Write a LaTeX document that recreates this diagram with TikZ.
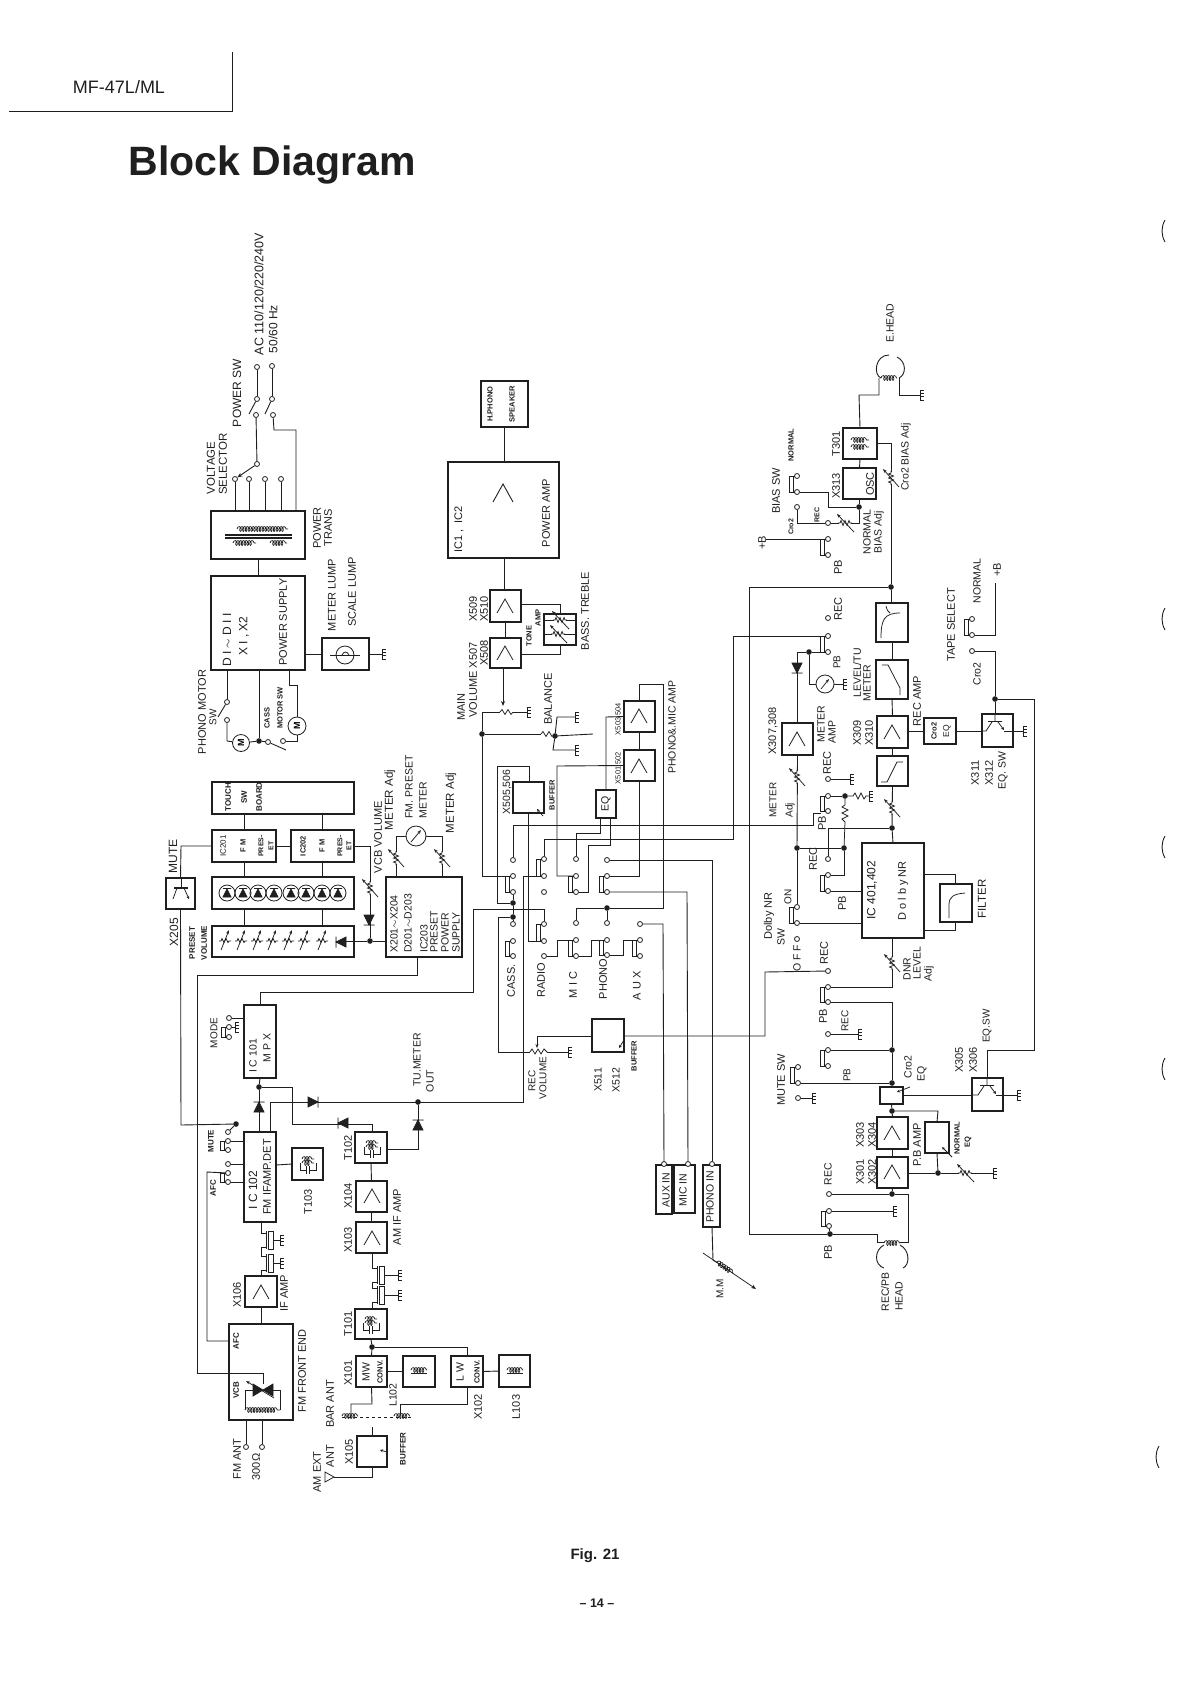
\documentclass[tikz,border=0pt]{standalone}
\usepackage{fontspec}
\setmainfont{Liberation Sans}
\usetikzlibrary{arrows.meta,decorations.pathmorphing,calc}
\definecolor{ink}{HTML}{1f1f1f}
\newcounter{lbl}
\tikzset{
 wire/.style={draw=ink,line width=.9pt},
 sym/.style={draw=ink,line width=.75pt},
 box/.style={draw=ink,line width=1.3pt,inner sep=0pt,outer sep=0pt,rectangle},
 term/.style={circle,draw=ink,fill=white,inner sep=0pt,minimum size=5pt,line width=.8pt},
 jdot/.style={circle,fill=ink,inner sep=0pt,minimum size=5.6pt},
 lab/.style={rotate=90,inner sep=0pt,text=ink,align=center},
 coilsym/.style={sym,decorate,decoration={coil,aspect=.6,segment length=2.8pt,amplitude=2.4pt}},
 zigsym/.style={sym,decorate,decoration={zigzag,segment length=3.6pt,amplitude=2pt}}
}
\newcommand\bx[6][]{\node[box,minimum width={(#5-#3)*1pt},minimum height={(#6-#4)*1pt},#1] (#2) at ({(#3+#5)/2},{(#4+#6)/2}) {};}
\newcommand\tm[3]{\node[term] (#1) at (#2,#3) {};}
\newcommand\dt[3]{\node[jdot] (#1) at (#2,#3) {};}
\newcommand\Lb[4][12]{\stepcounter{lbl}\node[lab,font=\fontsize{#1}{#1}\selectfont] (lb\thelbl) at (#2,#3) {#4};}
\newcommand\Ls[4][7.5]{\stepcounter{lbl}\node[lab,font=\fontsize{#1}{#1}\selectfont\bfseries] (lb\thelbl) at (#2,#3) {#4};}
\newcommand\gnd[2]{\draw[sym,line width=.9pt,shift={(#1,#2)}] (0,-5)--(0,5) (0,-5)--(4,-5) (0,-1.7)--(4,-1.7) (0,1.7)--(4,1.7) (0,5)--(4,5);}
\newcommand\vpot[2]{\fill[white,shift={(#1,#2)}] (-3,-6) rectangle (3,6);
 \draw[sym,shift={(#1,#2)}] (0,-7)--(0,-5)--(-2.5,-4)--(2.5,-2)--(-2.5,0)--(2.5,2)--(-2.5,4)--(0,5)--(0,7);
 \draw[sym,-{Stealth[length=4pt,width=3pt]},shift={(#1,#2)}] (8,9)--(-8,-9);}
\newcommand\hpot[2]{\fill[white,shift={(#1,#2)}] (-6,-3) rectangle (6,3);
 \draw[sym,shift={(#1,#2)}] (-7,0)--(-5,0)--(-4,-2.5)--(-2,2.5)--(0,-2.5)--(2,2.5)--(4,-2.5)--(5,0)--(7,0);
 \draw[sym,-{Stealth[length=4pt,width=3pt]},shift={(#1,#2)}] (9,9)--(-8,-9);}
\newcommand\ppot[2]{\draw[sym,shift={(#1,#2)}] (-6,1)--(-4,1)--(-3,-1.5)--(-1,2.5)--(1,-1.5)--(3,2.5)--(4,1)--(6,1);
 \draw[sym,-{Stealth[length=4pt,width=3pt]},shift={(#1,#2)}] (-4,10)--(4,-10);}
\newcommand\dio[3]{\draw[sym,fill=ink,shift={(#1,#2)},rotate=#3] (-5,-5)--(5,0)--(-5,5)--cycle (5,-5.5)--(5,5.5);}
\newcommand\amp[2]{\draw[sym,line width=.8pt,shift={(#1,#2)}] (-8,7)--(0,-7)--(8,7);}
\newcommand\sli[3]{\draw[sym,line width=.9pt] (#1-8,#2) rectangle (#1-4,#3);\draw[sym] (#1-4,#2)--(#1-2,#2) (#1-4,#3)--(#1-2,#3);}
\newcommand\trs[2]{\draw[sym,shift={(#1,#2)}] (-14,0)--(-9,0)--(-3,-9) (-7,-9.6)--(7,-9.6) (0,-17)--(0,-9.6);
 \draw[sym,-{Stealth[length=3pt,width=3pt]},shift={(#1,#2)}] (3,-9)--(9,-1);
 \draw[sym,shift={(#1,#2)}] (9,0)--(17,0);\draw[line width=1.6pt,ink,shift={(#1,#2)}] (-7,-9.6)--(7,-9.6);}
\newcommand\xt[4]{\draw[sym] (#1,#2-7)--(#1+6,#2-7) (#1,#2+7)--(#1+6,#2+7) (#1+5,#2-9)--(#1+5,#2+9);
 \draw[sym,line width=.9pt] (#1+7,#2-9) rectangle (#1+12,#2+9);\draw[sym] (#1+12,#2)--(#3,#2);\gnd{#3}{#2}}
\newcommand\ift[2]{\draw[coilsym,shift={(#1,#2)}] (-6,-5)--(6,-5);\draw[coilsym,shift={(#1,#2)}] (-6,-1)--(6,-1);
 \draw[sym,shift={(#1,#2)}] (-8,-1)--(-8,6)--(-1.5,6) (-1.5,2)--(-1.5,10) (1.5,2)--(1.5,10) (1.5,6)--(8,6)--(8,-1);}
\begin{document}
\begin{tikzpicture}[x=1pt,y=-1pt]
\useasboundingbox (0,0) rectangle (1191,1683);
\fill[white] (0,0) rectangle (1191,1683);
% ---------- header
\coordinate (hA) at (232,52);\coordinate (hB) at (232,112);\coordinate (hC) at (9,112);
\draw[ink,line width=1pt] (hA)--(hB)--(hC);
\node[inner sep=0pt,text=ink,font=\fontsize{18}{19}\selectfont] (hdr) at (119,87) {MF-47L/ML};
\node[inner sep=0pt,text=ink,font=\fontsize{41}{42}\selectfont\bfseries] (title) at (272,165) {Block Diagram};
\node[inner sep=0pt,text=ink,font=\fontsize{15}{16}\selectfont\bfseries] (fig) at (595,1556) {Fig. 21};
\node[inner sep=0pt,text=ink,font=\fontsize{12.5}{13}\selectfont\bfseries] (pg) at (597,1603) {-- 14 --};
\foreach \px/\py in {1163/231,1163/619,1163/847,1163/1069,1157/1457}
 \draw[ink,line width=.9pt] (\px+2,\py-11) .. controls (\px-2,\py-4) and (\px-2,\py+4) .. (\px+2,\py+11);
% ---------- boxes
\bx{trans}{211}{511}{305}{559}
\bx{psu}{211}{576}{305}{670}
\bx{lamp}{322}{638}{369}{670}
\bx{touch}{212}{782}{354}{814}
\bx{ic201}{212}{830}{276}{862}
\bx{ic202}{291}{830}{354}{862}
\bx{leds}{212}{877}{354}{909}
\bx{preset}{212}{926}{354}{957}
\bx{pps}{386}{877}{462}{957}
\bx{x205}{166}{878}{195}{909}
\bx{ic101}{244}{1005}{276}{1078}
\bx{ic102}{244}{1132}{276}{1222}
\bx{t103}{292}{1148}{323}{1180}
\bx{x106}{245}{1276}{277}{1307}
\bx{fe}{229}{1324}{293}{1420}
\bx{t102}{355}{1132}{387}{1163}
\bx{x104}{356}{1181}{387}{1212}
\bx{x103}{356}{1222}{387}{1253}
\bx{t101}{355}{1309}{387}{1339}
\bx{x101}{356}{1356}{387}{1387}
\bx{lii}{403}{1356}{435}{1387}
\bx{x102}{451}{1356}{483}{1387}
\bx{liii}{499}{1355}{530}{1387}
\bx{x105}{357}{1436}{387}{1467}
\bx{phones}{481}{381}{528}{427}
\bx{pamp}{448}{462}{559}{558}
\bx{x509}{490}{590}{521}{622}
\bx{x507}{490}{638}{521}{668}
\bx{tone}{544}{614}{576}{645}
\bx{bufa}{513}{782}{544}{813}
\bx{x501}{624}{750}{655}{781}
\bx{x503}{624}{701}{655}{732}
\bx{eq}{596}{790}{616}{818}
\bx{x511}{592}{1019}{624}{1052}
\bx{auxin}{656}{1165}{672}{1214}
\bx{micin}{674}{1165}{695}{1213}
\bx{phin}{703}{1165}{720}{1227}
\bx{osc}{843}{468}{876}{499}
\bx{tiii}{843}{428}{877}{459}
\bx{fa}{876}{603}{908}{642}
\bx{fb}{876}{660}{908}{699}
\bx{x309}{877}{716}{908}{748}
\bx{fc}{877}{756}{908}{786}
\bx{croeq}{924}{718}{956}{744}
\bx{x311}{982}{714}{1013}{747}
\bx{x307}{782}{723}{813}{755}
\bx{ic401}{862}{843}{924}{938}
\bx{filt}{940}{884}{972}{922}
\bx{x305}{972}{1078}{1003}{1111}
\bx{croa}{880}{1087}{903}{1104}
\bx{x303}{877}{1117}{908}{1149}
\bx{x301}{877}{1157}{908}{1188}
\bx{neq}{925}{1122}{949}{1153}
% ---------- terminals
\tm{aca}{257}{367}\tm{acb}{272}{366}\tm{swa}{257}{399}\tm{swb}{272}{399}\tm{swc}{256}{415}\tm{swd}{273}{415}
\tm{vz}{257}{464}\tm{va}{235}{479}\tm{vb}{249}{479}\tm{vc}{265}{479}\tm{vd}{281}{479}
\tm{pma}{227}{702}\tm{pmb}{227}{720}\tm{cma}{268}{742}\tm{cmb}{283}{741}
\tm{moa}{229}{1018}\tm{mob}{229}{1027}\tm{moc}{229}{1037}
\tm{mua}{228}{1132}\tm{mub}{228}{1141}\tm{muc}{228}{1150}
\tm{afa}{228}{1164}\tm{afb}{228}{1173}\tm{afc}{228}{1182}
\tm{fma}{246}{1447}\tm{fmb}{262}{1447}
\tm{ca}{513}{860}\tm{cb}{513}{876}\tm{cc}{513}{892}\tm{cd}{513}{924}\tm{ce}{513}{941}\tm{cf}{513}{956}
\tm{ra}{544}{859}\tm{rb}{544}{876}\tm{rc}{544}{892}\tm{rd}{544}{924}\tm{re}{544}{941}\tm{rf}{544}{956}
\tm{ma}{576}{859}\tm{mb}{576}{876}\tm{mc}{576}{892}\tm{md}{576}{923}\tm{me}{576}{940}\tm{mf}{576}{956}
\tm{pa}{607}{860}\tm{pb}{607}{876}\tm{pc}{607}{892}\tm{pd}{607}{923}\tm{pe}{607}{940}\tm{pf}{607}{955}
\tm{ad}{640}{924}\tm{ae}{640}{940}\tm{af}{640}{956}
\tm{auxt}{664}{1164}\tm{mict}{688}{1164}\tm{phot}{712}{1164}
\tm{bsa}{797}{476}\tm{bsb}{797}{492}\tm{bsc}{797}{507}\tm{bpt}{828}{523}\tm{bpa}{828}{539}\tm{bpb}{828}{555}
\tm{tsa}{972}{619}\tm{tsb}{972}{635}\tm{tsc}{972}{651}
\tm{mra}{828}{618}\tm{mrb}{828}{636}\tm{mrc}{828}{652}
\tm{orec}{828}{779}\tm{qa}{828}{796}\tm{qb}{828}{811}\tm{rt}{828}{859}\tm{sa}{828}{875}\tm{sb}{828}{891}
\tm{dna}{797}{907}\tm{dnb}{797}{923}\tm{dnc}{797}{939}
\tm{nra}{828}{971}\tm{nrb}{828}{987}\tm{nrc}{828}{1002}
\tm{wa}{828}{1034}\tm{wb}{828}{1050}\tm{wc}{828}{1066}
\tm{xa}{798}{1067}\tm{xb}{798}{1083}\tm{xc}{798}{1098}
\tm{ha}{829}{1194}\tm{hb}{829}{1211}\tm{hc}{829}{1226}
% ---------- dots
\dt{dmo}{259}{741}\dt{dvc}{370}{941}\dt{dx}{259}{1087}\dt{dmu}{236}{1124}\dt{dtu}{418}{1102}\dt{dam}{372}{1347}
\dt{dm}{482}{734}\dt{db}{555}{736}\dt{da}{513}{903}\dt{dc}{513}{917}\dt{dp}{607}{908}
\dt{rbd}{891}{587}\dt{rcd}{859}{507}\dt{rmd}{809}{652}\dt{rnd}{892}{828}\dt{dA}{797}{848}\dt{dB}{844}{848}\dt{dC}{845}{796}
\dt{dD}{892}{1050}\dt{dE}{892}{1083}\dt{dF}{892}{1111}\dt{dG}{938}{1173}\dt{dH}{892}{1194}\dt{dI}{830}{1234}\dt{dJ}{995}{699}
% ---------- power section wires
\draw[wire] (aca)--(swa);\draw[wire] (acb)--(swb);
\coordinate (lva) at (249,414);\coordinate (lvb) at (265,414);
\draw[wire] (swa)--(lva);\draw[wire] (swb)--(lvb);
\draw[wire] (swc)--(vz);\draw[wire,-{Stealth[length=5pt,width=4pt]}] (vz)--(va);
\foreach \n in {va,vb,vc,vd} \draw[wire] (\n)--(\n |- trans.north);
\draw[wire] (swd)--(274,430)--(296,430)--(296,511);
\draw[wire] (trans.south)--(psu.north);
\draw[wire] (psu.east |- lamp.west)--(lamp.west);
\draw[wire] (lamp.east)--(382,654);\gnd{382}{654}
\draw[wire] (227,670)--(pma);\coordinate (lvc) at (218,717);\draw[wire] (pma)--(lvc);
\node[circle,draw=ink,line width=.8pt,minimum size=17pt,inner sep=0pt,font=\fontsize{9}{9}\selectfont\bfseries,rotate=90] (mota) at (241,743) {M};
\node[circle,draw=ink,line width=.8pt,minimum size=18pt,inner sep=0pt,font=\fontsize{9}{9}\selectfont\bfseries,rotate=90] (motb) at (297,726) {M};
\draw[wire] (pmb)--(227,741)--(mota);\draw[wire] (mota)--(dmo);\draw[wire] (259,670)--(dmo);\draw[wire] (dmo)--(cma);
\coordinate (lvd) at (286,750);\draw[wire] (cma)--(lvd);
\draw[wire] (cmb)--(297,741)--(motb);
\draw[wire] (289,670)--(289,685)--(297,685)--(motb);
% transformer
\draw[sym,line width=1.1pt] (225,535)--(292,535) (225,538)--(292,538);
\draw[coilsym] (237,529)--(288,529);\draw[coilsym] (233,543)--(256,543);\draw[coilsym] (270,543)--(287,543);
\node[circle,draw=ink,line width=.8pt,minimum size=18pt,inner sep=0pt] (lmpc) at (345,655) {};
\draw[sym] (330,655)--(360,655);\draw[sym] (342,655) .. controls (344,651) and (347,651) .. (349,655);
% ---------- tuner/preset
\draw[wire] (ic201.north |- touch.south)--(ic201.north);
\draw[wire] (ic202.north |- touch.south)--(ic202.north);
\draw[wire] (ic201.east)--(ic202.west);
\draw[wire] (ic201.south)--(ic201.south |- leds.north);
\draw[wire] (ic202.south)--(ic202.south |- leds.north);
\draw[wire] (ic201.south |- leds.south)--(ic201.south |- preset.north);
\draw[wire] (ic202.south |- leds.south)--(ic202.south |- preset.north);
\foreach \lx in {227,243,258,274,291,306,322,338} {\draw[sym,line width=.8pt] (\lx,893) circle[radius=8pt];
 \draw[sym,fill=ink] (\lx-4,897)--(\lx+4,897)--(\lx,889)--cycle (\lx-4,888.5)--(\lx+4,888.5);}
\foreach \px in {225,241,257,272,288,304,322} {\ppot{\px}{940}}
\dio{341}{942}{180}
\draw[wire] (pps.west |- dvc)--(dvc);\draw[wire] (dvc)--(346,941);
\draw[wire] (dvc)--(370,846)--(ic202.east);
\vpot{370}{888}\dio{369}{920}{-90}
\node[circle,draw=ink,line width=.8pt,minimum size=20pt,inner sep=0pt] (mtr) at (416,836) {};
\draw[sym,-{Stealth[length=4pt,width=3pt]}] (411,842)--(421,830);
\draw[wire] (396,877)--(396,836)--(mtr);\draw[wire] (442,877)--(442,836)--(mtr);
\vpot{396}{858}\vpot{442}{858}
\draw[wire] (x205.north)--(181,846)--(ic201.west);
\draw[wire] (x205.south)--(181,1125)--(dmu);\draw[wire] (dmu)--(mua);
\draw[sym] (181,878)--(181,888);\draw[ink,line width=1.6pt] (174,888)--(188,888);\draw[sym] (177,888)--(173,899);
\draw[sym,-{Stealth[length=3pt,width=3pt]}] (184,888)--(189,899);
\draw[wire] (417,957)--(417,975)--(197,975)--(197,1373)--(263,1373)--(263,1384);
\draw[wire] (ic101.north)--(260,992)--(473,992)--(473,909)--(544,909)--(rd);
% mode
\draw[wire] (moa)--(moa -| ic101.west);
\draw[sym] (mob)--(235,1027);\gnd{235}{1027}
\sli{229}{1027}{1037}
\draw[wire] (mub)--(mub -| ic102.west);\sli{228}{1141}{1150}
\draw[wire] (afa)--(afa -| ic102.west);\draw[wire] (afc)--(afc -| ic102.west);\sli{228}{1173}{1182}
\draw[wire] (afb)--(207,1172)--(207,1341)--(229,1341);
% tuner chain
\draw[wire] (ic101.south)--(dx);\draw[wire] (dx)--(259,1132);\dio{259}{1107}{90}
\draw[wire] (dx)--(292,1087)--(292,1124)--(372,1124)--(372,1132);\dio{343}{1123}{180}
\draw[wire] (270,1132)--(270,1102)--(523,1102)--(523,876)--(rb);\dio{313}{1102}{0}
\draw[wire] (dtu)--(418,1149)--(387,1149);\dio{418}{1125}{90}
\draw[wire] (276,1165)--(t103.west);
\draw[wire] (261,1222)--(261,1233);\draw[wire] (261,1247)--(261,1256);\draw[wire] (261,1270)--(261,1276);
\xt{261}{1240}{280}{}\xt{261}{1263}{280}{}
\draw[wire] (x106.south)--(261,1324);
\draw[wire] (fma)--(fma |- fe.south);\draw[wire] (fmb)--(fmb |- fe.south);
\draw[sym] (245,1390)--(245,1410);\draw[sym] (280,1390)--(280,1410);\draw[coilsym] (245,1410)--(280,1410);
\draw[sym] (245,1390)--(257,1390);\draw[sym] (270,1390)--(280,1390);
\draw[sym,fill=ink] (253,1384)--(263,1390)--(253,1396)--cycle (273,1384)--(263,1390)--(273,1396)--cycle;
\draw[sym,-{Stealth[length=4pt,width=3pt]}] (274,1398)--(246,1381);
\amp{261}{1292}
% AM chain
\draw[wire] (t102.south)--(x104.north);\draw[wire] (x104.south)--(x103.north);
\draw[wire] (372,1253)--(372,1268);\draw[wire] (372,1282)--(372,1288);\draw[wire] (372,1302)--(372,1309);
\xt{372}{1275}{398}{}\xt{372}{1295}{398}{}
\draw[wire] (t101.south)--(dam);\draw[wire] (dam)--(x101.north);\draw[wire] (dam)--(467,1347)--(x102.north);
\draw[wire] (x101.east)--(lii.west);\draw[wire] (x102.east)--(liii.west);
\draw[wire] (x101.south)--(372,1404)--(351,1404)--(351,1414);
\draw[wire] (x102.south)--(467,1404)--(400,1404)--(400,1414);
\draw[sym,dashed] (342,1417)--(412,1417);\draw[coilsym] (342,1416)--(358,1416);\draw[coilsym] (394,1416)--(410,1416);
\draw[wire] (372,1427)--(x105.north);
\draw[wire] (x105.south)--(372,1477)--(334,1477);
\draw[sym] (325,1472)--(325,1482)--(334,1477)--cycle;
\draw[sym,-{Stealth[length=3pt,width=3pt]}] (387,1452)--(380,1450);
\amp{372}{1196}\amp{372}{1238}
\ift{372}{1148}\ift{371}{1324}
\ift{308}{1164}
\draw[coilsym] (411,1370)--(427,1370);\draw[sym] (411,1373)--(427,1373);
\draw[coilsym] (507,1370)--(523,1370);\draw[sym] (507,1373)--(523,1373);
% ---------- audio main
\draw[wire] (phones.south)--(phones.south |- pamp.north);
\draw[wire] (504,558)--(504,590);
\draw[wire] (x509.south)--(x507.north);
\draw[wire,-{Stealth[length=5pt,width=4pt]}] (503,668)--(503,706);
\draw[wire] (521,604)--(560,604)--(560,614);\draw[wire] (521,654)--(560,654)--(560,645);
\draw[sym] (545,620)--(575,620) (545,634)--(575,634);
\hpot{560}{620}\hpot{558}{634}
\draw[sym,line width=.9pt] (493,502)--(503,484)--(513,502);
\amp{505}{606}\amp{505}{653}\amp{639}{716}\amp{639}{766}\amp{797}{739}\amp{892}{732}\amp{892}{1133}\amp{892}{1172}
\draw[wire] (dm)--(482,712)--(500,712);\draw[sym] (500,712)--(502,709.5)--(505,714.5)--(508,709.5)--(511,714.5)--(513,712);
\draw[wire] (513,712)--(527,712);\gnd{527}{712}
\draw[wire] (dm)--(541,734);\draw[sym] (541,734)--(543,731.5)--(546,736.5)--(549,731.5)--(552,736.5)--(db);
\draw[wire] (db)--(593,734);
\draw[wire] (db)--(557,717)--(575,717);\gnd{575}{717}
\draw[wire] (db)--(553,750)--(575,750);\gnd{575}{750}
\draw[wire] (dm)--(482,876)--(cb);
\draw[wire] (da)--(497,903)--(497,766)--(529,766)--(529,782);
\draw[wire] (cc)--(da);\draw[wire] (da)--(dc);\draw[wire] (dc)--(cd);
\draw[wire] (bufa.south)--(528.5,941)--(re);
\draw[wire] (mb)--(557,876)--(557,766)--(x501.west);
\draw[wire] (x503.south)--(x501.north);
\draw[wire] (x503.west)--(606,717)--(606,790);
\draw[wire] (pb)--(639.5,876)--(x501.south);
\draw[wire] (ca)--(513,825)--(813,825)--(813,813)--(821,813);
\draw[wire] (ra)--(544,839)--(733,839)--(733,636)--(mrb);
\draw[wire] (ma)--(576,833)--(600,833)--(600,818);
\draw[wire] (mc)--(588,892)--(588,845)--(610,845)--(610,818);
\draw[wire] (pa)--(712,860)--(phot);
\draw[wire] (pc)--(687,892)--(mict);
\draw[wire] (ad)--(663,924)--(auxt);
\draw[wire] (dp)--(pd);\draw[wire] (dp)--(576,908)--(md);
\draw[wire] (dp)--(663,908)--(663,684)--(639.5,684)--(x503.north);
\draw[wire] (rf)--(557,956)--(557,940)--(me);
\draw[wire] (mf)--(591,956)--(591,940)--(pe);
\draw[wire] (pf)--(623,955)--(623,940)--(ae);
\sli{513}{876}{892}\sli{513}{941}{956}\sli{544}{859}{876}\sli{544}{924}{941}\sli{576}{876}{892}\sli{576}{940}{956}\sli{607}{876}{892}\sli{607}{940}{955}\sli{640}{940}{956}
% rec volume
\draw[wire] (dc)--(498,917)--(498,1052)--(530,1052);
\draw[sym] (530,1052)--(532,1049)--(535,1054)--(538,1049)--(541,1054)--(544,1049)--(547,1052);
\draw[wire] (547,1052)--(568,1052);\gnd{568}{1052}
\draw[wire,-{Stealth[length=4pt,width=3pt]}] (x511.west |- 0,1036)--(537,1036)--(537,1048);
\draw[wire] (x511.east |- 0,1036)--(765,1036)--(765,972)--(nra);
\draw[sym,-{Stealth[length=3pt,width=3pt]}] (624,1040)--(619,1048);
\draw[sym,-{Stealth[length=3pt,width=3pt]}] (543,816)--(537,809);
% MM
\draw[wire] (phin.south -| phot)--(713,1260)--(718,1263);
\draw[sym,-{Stealth[length=5pt,width=4pt]}] (703,1253)--(756,1289);
\draw[coilsym] (717,1262)--(733,1273);
% ---------- tape section
\draw[wire] (tiii.north)--(859,395)--(879,395)--(879,378);
\draw[wire] (899,378)--(899,395)--(920,395);\gnd{920}{395}
\draw[coilsym] (881,378)--(897,378);
\draw[sym,line width=.9pt] (889,355) .. controls (875,355) and (873,375) .. (881,378);
\draw[sym,line width=.9pt] (897,357) .. controls (907,362) and (906,375) .. (899,378);
\draw[wire] (osc.north)--(tiii.south);
\draw[coilsym] (851,440)--(869,440);\draw[coilsym] (851,447)--(869,447);
\draw[wire] (tiii.east)--(891,443.5)--(rbd);\vpot{891}{478}
\draw[wire] (rbd)--(891,603);\draw[wire] (rbd)--(749,587)--(749,1234)--(dI);
\draw[wire] (bsb)--(828,492)--(828,507)--(rcd);\draw[wire] (rcd)--(859,499);
\draw[wire] (rcd)--(859,523)--(bpt);\hpot{845}{523}
\draw[wire] (bsc)--(797,523)--(bpt);
\sli{797}{476}{492}
\draw[wire] (bpa)--(766,539);\sli{828}{539}{555}
% filters
\draw[wire] (fa.south)--(fb.north);\draw[wire] (fb.south)--(x309.north);\draw[wire] (x309.south)--(fc.north);
\draw[sym] (881,638) .. controls (881,620) and (884,613) .. (900,613) (886,606) .. controls (887,610) and (888,612) .. (890,613);
\draw[sym] (882,665)--(888,665)--(900,688)--(900,695);
\draw[sym] (881,782)--(887,782)--(897,762)--(903,762);
\draw[wire] (fc.south)--(rnd);\vpot{892}{808}\draw[wire] (rnd)--(ic401.north);
\draw[wire] (x309.east |- croeq.west)--(croeq.west);
\draw[wire] (croeq.east)--(x311.west |- croeq.east);
\draw[wire] (x311.east |- 0,731)--(1023,731);\gnd{1023}{731}
\trs{995}{731}
\draw[wire] (dJ)--(995,714);
\draw[wire] (dJ)--(1034,699)--(1034,1050)--(987,1050)--(987,1078);
\draw[wire] (tsc)--(995,651)--(dJ);
\draw[wire] (tsb)--(995,635)--(995,583);\sli{972}{619}{635}
% meter
\sli{828}{636}{652}
\draw[wire] (mrc)--(rmd);\draw[wire] (rmd)--(797,652)--(797,723);\dio{797}{668}{-90}
\node[circle,draw=ink,line width=.8pt,minimum size=18pt,inner sep=0pt] (mtb) at (825,684) {};
\draw[sym,-{Stealth[length=4pt,width=3pt]}] (821,689)--(829,679);
\draw[wire] (rmd)--(809,684)--(mtb);\draw[wire] (mtb)--(843,684);\gnd{843}{684}
\draw[wire] (x307.south)--(dA);\vpot{797}{777}
\draw[wire] (dA)--(dB);\draw[wire] (dA)--(dna);
\draw[wire] (orec)--(850,779);\gnd{850}{779}
\draw[wire] (qa)--(dC);\draw[sym] (dC)--(853,796)--(855,793)--(858,799)--(861,793)--(864,799)--(866,796)--(869,796);\gnd{869}{796}
\draw[sym] (dC)--(845,805)--(842,807)--(848,810)--(842,813)--(848,816)--(842,819)--(845,822)--(dB);
\draw[wire] (dB)--(844,875)--(sa);\sli{828}{796}{811}\sli{828}{875}{891}
\draw[wire] (rt)--(828,828)--(rnd);
\draw[wire] (sb)--(862,891);\draw[wire] (dnb)--(862,923);\sli{797}{907}{923}
\draw[wire] (924,874)--(955,874)--(955,884);\draw[wire] (924,930)--(955,930)--(955,922);
\draw[sym] (949,918)--(949,905) .. controls (949,897) and (953,894) .. (965,893);
\draw[wire] (892,938)--(892,987)--(nrb);\vpot{892}{963}
\draw[wire] (nrc)--(892,1002)--(dD);\sli{828}{987}{1002}
\draw[wire] (wb)--(dD);\sli{828}{1050}{1066}
\draw[wire] (wa)--(858,1034);\gnd{858}{1034}
\draw[wire] (dD)--(dE);\draw[wire] (xb)--(dE);\sli{798}{1067}{1083}
\draw[wire] (xc)--(812,1098);\gnd{812}{1098}
\draw[wire] (dE)--(croa.north);\draw[wire] (croa.south)--(dF);\draw[wire] (dF)--(x303.north);
\draw[sym,-{Stealth[length=3pt,width=3pt]}] (910,1087)--(897,1092);
\draw[wire] (croa.east)--(972,1095.5);
\draw[wire] (x305.east |- 0,1095)--(1017,1095);\gnd{1017}{1095}
\trs{987}{1095}
\draw[wire] (dF)--(938,1111)--(neq.north);\draw[wire] (neq.south)--(dG);
\draw[sym,-{Stealth[length=3pt,width=3pt]}] (952,1157)--(942,1147);
\draw[wire] (x303.south)--(x301.north);
\draw[wire] (908,1173)--(dG);\draw[wire] (dG)--(993,1173);\hpot{965}{1173}\gnd{993}{1173}
\draw[wire] (x301.south)--(dH);\draw[wire] (dH)--(ha);
\draw[wire] (dH)--(908,1194)--(908,1242)--(900,1242);
\draw[wire] (hb)--(893,1211);\gnd{893}{1211}\sli{829}{1211}{1226}
\draw[wire] (hc)--(dI);\draw[wire] (dI)--(877,1234)--(877,1242)--(884,1242);
\draw[coilsym] (884,1243)--(900,1243);
\draw[sym,line width=.9pt] (884,1245) .. controls (874,1250) and (874,1265) .. (884,1268);
\draw[sym,line width=.9pt] (900,1245) .. controls (910,1250) and (910,1265) .. (903,1268);
% ---------- labels
\Lb[12.5]{259}{294}{AC 110/120/220/240V}\Lb{273}{329}{50/60 Hz}\Lb{237}{393}{POWER SW}
\Lb[11.5]{211}{468}{VOLTAGE}\Lb[11.5]{223}{464}{SELECTOR}\Lb[11]{317}{528}{POWER}\Lb[11]{328}{528}{TRANS}
\Lb{227}{640}{D I $\sim$ D I I}\Lb{244}{636}{X I ,~X2}\Lb[11]{283}{622}{POWER SUPPLY}
\Lb[11]{332}{595}{METER LUMP}\Lb[11]{352}{592}{SCALE LUMP}
\Lb[11]{202}{712}{PHONO MOTOR}\Lb[10]{213}{717}{SW}\Ls[7.5]{267}{718}{CASS}\Ls[7.5]{280}{708}{MOTOR SW}
\Ls[8]{228}{797}{TOUCH}\Ls[8]{244}{797}{SW}\Ls[8]{259}{797}{BOARD}
\Lb[8]{223}{846}{IC201}\Ls[7.5]{243}{846}{F M}\Ls[7]{261}{846}{PRES-}\Ls[7]{271}{846}{ET}
\Ls[7.5]{303}{846}{IC202}\Ls[7.5]{322}{846}{F M}\Ls[7]{340}{846}{PRES-}\Ls[7]{349}{846}{ET}
\Lb[11]{378}{837}{VCB VOLUME}\Lb[11.5]{390}{800}{METER Adj}\Lb[10.5]{409}{787}{FM. PRESET}\Lb[10.5]{423}{800}{METER}\Lb[11.5]{451}{803}{METER Adj}
\Lb{173}{856}{MUTE}\Lb{174}{932}{X205}\Ls[8]{192}{943}{PRESET}\Ls[8]{204}{943}{VOLUME}
\node[lab,anchor=west,font=\fontsize{10.5}{11}\selectfont] (la) at (394,953) {X201$\sim$X204};
\node[lab,anchor=west,font=\fontsize{10.5}{11}\selectfont] (lc) at (408,953) {D201$\sim$D203};
\node[lab,anchor=west,font=\fontsize{10.5}{11}\selectfont] (ld) at (424,953) {IC203};
\node[lab,anchor=west,font=\fontsize{10.5}{11}\selectfont] (le) at (434,953) {PRESET};
\node[lab,anchor=west,font=\fontsize{10.5}{11}\selectfont] (lf) at (445,953) {POWER};
\node[lab,anchor=west,font=\fontsize{10.5}{11}\selectfont] (lg) at (456,953) {SUPPLY};
\Lb[10]{214}{1033}{MODE}\Lb[10.5]{253}{1056}{I C 101}\Lb[10.5]{267}{1048}{M P X}
\Lb[10.5]{417}{1060}{TU.METER}\Lb[10.5]{430}{1081}{OUT}
\Ls[8]{211}{1141}{MUTE}\Ls[8]{213}{1188}{AFC}
\Lb[12]{253}{1190}{I C 102}\Lb[11]{267}{1177}{FM IFAMP.DET}\Lb[11]{308}{1202}{T103}
\Lb[11]{237}{1295}{X106}\Lb[11]{284}{1293}{IF AMP}\Ls[8]{236}{1341}{AFC}\Ls[8]{236}{1390}{VCB}
\Lb[11]{302}{1371}{FM FRONT END}\Lb[11]{237}{1459}{FM ANT}\Lb[11]{256}{1467}{300Ω}
\Lb[11]{348}{1148}{T102}\Lb[11]{348}{1196}{X104}\Lb[11]{348}{1240}{X103}\Lb[11]{397}{1217}{AM IF AMP}\Lb[11]{348}{1324}{T101}\Lb[11]{348}{1373}{X101}
\Lb[10.5]{366}{1372}{MW}\Ls[7.5]{380}{1372}{CONV.}\Lb[10.5]{393}{1395}{L102}
\Lb[10.5]{460}{1372}{L W}\Ls[7.5]{477}{1372}{CONV.}\Lb[11]{478}{1407}{X102}\Lb[11]{516}{1407}{L103}
\Lb[11]{330}{1404}{BAR ANT}\Lb[11]{349}{1452}{X105}\Ls[8]{403}{1449}{BUFFER}
\Lb[11]{317}{1472}{AM EXT}\Lb[11]{330}{1456}{ANT}
\Ls[7.5]{490}{404}{H.PHONO}\Ls[7.5]{512}{404}{SPEAKER}
\node[lab,anchor=west,font=\fontsize{11}{12}\selectfont] (lh) at (459,553) {IC1 ,~~IC2};
\Lb[11]{546}{513}{POWER AMP}\Lb[11]{473}{609}{X509}\Lb[11]{484}{609}{X510}
\Lb[11]{473}{680}{VOLUME X507}\Lb[11]{484}{653}{X508}\Lb[11]{461}{707}{MAIN}
\Ls[7.5]{529}{636}{TONE}\Ls[7.5]{538}{618}{AMP}\Lb[11]{585}{611}{BASS. TREBLE}\Lb[11]{548}{699}{BALANCE}
\Lb[10.5]{507}{792}{X505,506}\Ls[7.5]{552}{795}{BUFFER}
\Lb[7.5]{618}{768}{X501 502}\Lb[7.5]{618}{719}{X503 504}\node[rotate=90,inner sep=0pt,text=ink,font=\fontsize{10.5}{11}\selectfont] (eqt) at (606,804) {EQ};
\Lb[10.5]{672}{727}{PHONO\&.MIC AMP}
\Lb[11]{511}{981}{CASS.}\Lb[11]{541}{980}{RADIO}\Lb[11]{573}{985}{M I C}\Lb[11]{603}{979}{PHONO}\Lb[11]{637}{986}{A U X}
\Lb[10]{532}{1081}{REC}\Lb[10]{543}{1078}{VOLUME}\Lb[10.5]{598}{1080}{X511}\Lb[10.5]{616}{1080}{X512}\Ls[7.5]{634}{1056}{BUFFER}
\Lb[10.5]{666}{1190}{AUX IN}\Lb[10.5]{683}{1190}{MIC IN}\Lb[10.5]{710}{1197}{PHONO IN}\Lb[10]{720}{1289}{M.M}
\Lb[10.5]{890}{323}{E.HEAD}\Lb[11]{836}{444}{T301}\Lb[11]{836}{486}{X313}\Lb[11]{870}{484}{OSC}\Lb[10.5]{906}{457}{Cro2 BIAS Adj}
\Lb[11]{776}{491}{BIAS SW}\Ls[7.5]{791}{445}{NORMAL}\Ls[7]{817}{515}{REC}\Ls[7]{791}{527}{Cro2}
\Lb[10.5]{867}{532}{NORMAL}\Lb[10.5]{879}{532}{BIAS Adj}\Lb[11]{762}{543}{+B}\Lb[11]{838}{567}{PB}
\Lb[11]{951}{625}{TAPE SELECT}\Lb[10.5]{977}{581}{NORMAL}\Lb[11]{997}{570}{+B}\Lb[10.5]{977}{674}{Cro2}
\Lb[11]{838}{609}{REC}\Lb[10]{837}{662}{PB}\Lb[10.5]{857}{673}{LEVEL/TU}\Lb[10.5]{867}{683}{METER}
\Lb[11]{917}{701}{REC AMP}\Lb[11]{857}{733}{X309}\Lb[11]{869}{733}{X310}
\Ls[7.5]{934}{731}{Cro2}\Lb[8.5]{947}{731}{EQ}
\Lb[11]{975}{773}{X311}\Lb[11]{989}{773}{X312}\Lb[10.5]{1003}{771}{EQ. SW}
\Lb[11]{773}{731}{X307,308}\Lb[10.5]{821}{724}{METER}\Lb[10.5]{832}{732}{AMP}
\Lb[10]{773}{800}{METER}\Lb[10]{790}{810}{Adj}\Lb[11]{827}{763}{REC}\Lb[11]{822}{823}{PB}
\Lb[11]{813}{859}{REC}\Lb[11]{842}{903}{PB}
\Lb[12]{872}{890}{IC 401,402}\Lb[11]{903}{891}{D o l b y  NR}\Lb[11.5]{982}{899}{FILTER}
\Lb[11]{769}{916}{Dolby NR}\Lb[10.5]{781}{937}{SW}\Lb[10]{788}{897}{ON}\Lb[10.5]{797}{958}{O F F}
\Lb[11]{824}{953}{REC}\Lb[10.5]{907}{969}{DNR}\Lb[10.5]{917}{963}{LEVEL}\Lb[10.5]{929}{974}{Adj}
\Lb[11]{823}{1016}{PB}\Lb[10]{845}{1021}{REC}\Lb[10]{847}{1075}{PB}\Lb[11]{781}{1080}{MUTE SW}
\Lb[10.5]{908}{1067}{Cro2}\Lb[10.5]{922}{1074}{EQ}\Lb[11]{959}{1060}{X305}\Lb[11]{973}{1060}{X306}\Lb[10]{987}{1026}{EQ.SW}
\Lb[11]{860}{1135}{X303}\Lb[11]{872}{1135}{X304}\Lb[11]{860}{1172}{X301}\Lb[11]{872}{1172}{X302}
\Lb[11]{917}{1145}{P.B AMP}\Ls[7.5]{957}{1138}{NORMAL}\Ls[7.5]{968}{1142}{EQ}
\Lb[10.5]{828}{1174}{REC}\Lb[11]{828}{1252}{PB}\Lb[10.5]{885}{1292}{REC/PB}\Lb[10.5]{899}{1296}{HEAD}
\end{tikzpicture}
\end{document}
